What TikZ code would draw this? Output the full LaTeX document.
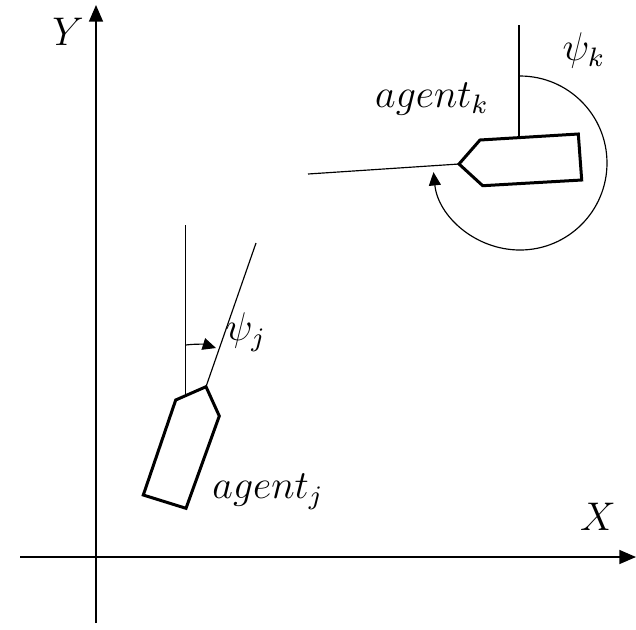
\documentclass[tikz,border=0pt]{standalone}
\usetikzlibrary{arrows.meta}
\begin{document}
\begin{tikzpicture}[x=0.3pt,y=-0.3pt,
  axis/.style={line width=0.45pt,-{Triangle[length=5pt,width=4.2pt]}},
  thin/.style={line width=0.35pt},
  ship/.style={line width=0.9pt,line join=miter},
  angarrow/.style={line width=0.35pt,-{Triangle[length=4pt,width=3.6pt]}},
  lab/.style={font=\fontsize{12}{14}\selectfont,inner sep=0pt}]
\useasboundingbox (0,0) rectangle (636,629);
% axes
\coordinate (yb) at (96,623);
\coordinate (yt) at (96,5);
\coordinate (xl) at (20,557);
\coordinate (xr) at (636,557);
\draw[axis] (yb) -- (yt);
\draw[axis] (xl) -- (xr);
\node[lab] (Ylab) at (68,32) {$Y$};
\node[lab] (Xlab) at (598,517) {$X$};
% agent j
\coordinate (j1) at (175.7,400);
\coordinate (j2) at (206,386.7);
\coordinate (j3) at (219.3,416);
\coordinate (j4) at (186,508.3);
\coordinate (j5) at (143.3,495);
\draw[ship] (j1) -- (j2) -- (j3) -- (j4) -- (j5) -- cycle;
\coordinate (jv0) at (185.5,395);
\coordinate (jv1) at (185.5,225);
\draw[thin] (jv0) -- (jv1);
\coordinate (jh) at (256,243);
\draw[thin] (j2) -- (jh);
\coordinate (ja1) at (185.5,345);
\coordinate (ja2) at (216,348);
\draw[angarrow] (ja1) to[bend left=12] (ja2);
\node[lab] (psij) at (246,332) {$\psi_j$};
\node[lab] (agj) at (268,492) {$agent_j$};
% agent k
\coordinate (k1) at (480,140);
\coordinate (k2) at (578.3,134);
\coordinate (k3) at (581.7,180);
\coordinate (k4) at (482.7,185.7);
\coordinate (k5) at (459,164);
\draw[ship] (k1) -- (k2) -- (k3) -- (k4) -- (k5) -- cycle;
\coordinate (kv0) at (519,137);
\coordinate (kv1) at (519,25);
\draw[thin] (kv0) -- (kv1);
\coordinate (kh) at (308,174);
\draw[thin] (k5) -- (kh);
\coordinate (kc) at (520,163);
\coordinate (ka1) at (520,76);
\draw[angarrow] (ka1) arc[start angle=-90,end angle=174,radius=87];
\node[lab] (psik) at (584,50) {$\psi_k$};
\node[lab] (agk) at (432,99) {$agent_k$};
\end{tikzpicture}
\end{document}
